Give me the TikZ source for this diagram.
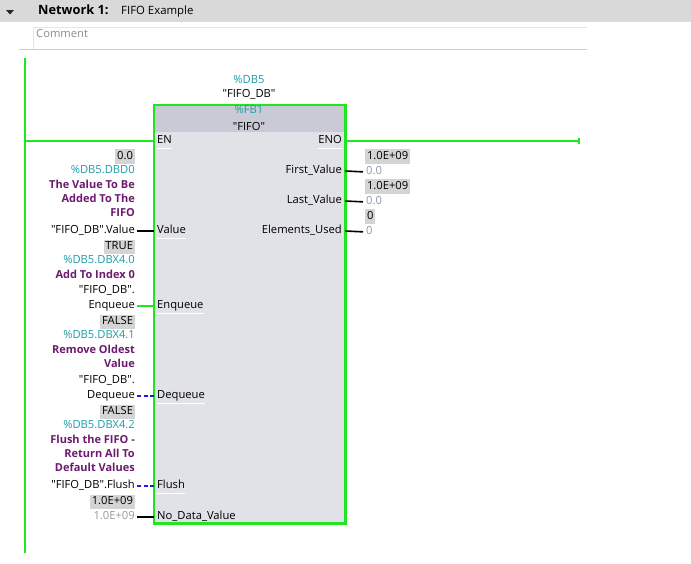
\documentclass[tikz,border=0pt]{standalone}
\usepackage{fontspec}
\setmainfont{Open Sans}[Ligatures=TeXOff]
\usetikzlibrary{positioning,calc}
\definecolor{plcgreen} {HTML}{1FE61F}
\definecolor{plcblue}  {HTML}{1C1CE8}
\definecolor{addrteal} {HTML}{1E9EA8}
\definecolor{cmtpurple}{HTML}{6B1A6E}
\definecolor{hdrgray}  {HTML}{D9D9D9}
\definecolor{boxgray}  {HTML}{D4D4D4}
\definecolor{blkhead}  {HTML}{C9CAD6}
\definecolor{blkbody}  {HTML}{E1E1E8}
\definecolor{initgray} {HTML}{8C9AAE}
\definecolor{softgray} {HTML}{9A9A9A}
\definecolor{cmtline}  {HTML}{CFCBDD}
\tikzset{
  every node/.style={font=\fontsize{11.2}{13}\selectfont, inner sep=0pt,
                     text height=8.2pt, text depth=2.4pt},
  % --- nodes
  pin/.style   = {anchor=west, text=black},
  opin/.style  = {anchor=east, text=black},
  tag/.style   = {anchor=east, text=black},
  addr/.style  = {anchor=east, text=addrteal},
  cmt/.style   = {anchor=east, text=cmtpurple, font=\fontsize{11}{13}\selectfont\bfseries},
  val/.style   = {fill=boxgray, inner sep=1.8pt, text=black},
  init/.style  = {text=initgray},
  % --- edges
  rail/.style  = {draw=plcgreen, line width=2pt},
  wire/.style  = {line width=1.6pt},
  boolon/.style= {wire, draw=plcgreen},
  booloff/.style={wire, draw=plcblue, dash pattern=on 4pt off 2.5pt},
  realw/.style = {wire, draw=black},
  sep/.style   = {draw=white, line width=0.8pt},
}

\begin{document}
\begin{tikzpicture}[x=1pt,y=-1pt]
  \useasboundingbox (0,0) rectangle (691,563);
  % network header
  \fill[hdrgray] (0,0) rectangle (691,22);
  \fill[black!85] (6,10) -- (14,10) -- (10,14.5) -- cycle;
  \node[anchor=west, font=\fontsize{12.8}{15}\selectfont\bfseries] (netno) at (38,11.5) {Network 1:};
  \node[anchor=west, font=\fontsize{11.4}{13}\selectfont] (nettitle) at (121,11.5) {FIFO Example};
  \draw[draw=black!10] (33,49) -- (33,27) -- (587,27);
  \draw[draw=cmtline] (19,49) -- (587,49);
  \node[anchor=west, text=black!45, font=\fontsize{11.2}{13}\selectfont] (comment) at (36,35) {Comment};

  % power rail
  \coordinate (railtop) at (25,58);
  \coordinate (railbot) at (25,553);
  \draw[rail] (railtop) -- (railbot);

  % FB block
  \node[fill=blkbody, minimum width=191pt, minimum height=418pt, anchor=north west] (fb) at (154,105) {};
  \fill[blkhead] (fb.north west) rectangle ($(fb.north east)+(0,27)$);
  \draw[rail, line width=2.2pt] (fb.north west) rectangle (fb.south east);
  \node[addr, anchor=center] (dbaddr) at (249,81) {\%DB5};
  \node[anchor=center] (dbname) at (249,95) {"FIFO\_DB"};
  \node[addr, anchor=center] (fbaddr) at (249,111) {\%FB1};
  \node[anchor=center] (fbname) at (249,128) {"FIFO"};

  % EN / ENO
  \node[pin] (pEN) at (157,141) {EN};
  \node[opin] (pENO) at (342,141) {ENO};
  \coordinate (enoend) at (579,141);
  \draw[boolon] (railtop |- pEN) -- (pEN -| fb.west);
  \draw[boolon] (pENO -| fb.east) -- (enoend);
  \draw[plcgreen, line width=1.5pt] ([yshift=3pt]enoend) -- ([yshift=-3pt]enoend);

  % input: Value
  \node[val, anchor=east] (iValueBox) at (135,156.5) {0.0};
  \node[addr] (iValueAddr) at (135,171) {\%DB5.DBD0};
  \node[cmt] (iValueC1) at (135,186) {The Value To Be};
  \node[cmt] (iValueC2) at (135,200) {Added To The};
  \node[cmt] (iValueC3) at (135,214) {FIFO};
  \node[tag] (iValue) at (135,231) {"FIFO\_DB".Value};
  \node[pin] (pValue) at (157,231) {Value};
  \draw[realw, shorten <=2pt] (iValue.east) -- (pValue -| fb.west);

  % input: Enqueue
  \node[val, anchor=east] (iEnqBox) at (135,247) {TRUE};
  \node[addr] (iEnqAddr) at (135,261) {\%DB5.DBX4.0};
  \node[cmt] (iEnqC1) at (135,276) {Add To Index 0};
  \node[tag] (iEnqDb) at (135,291) {"FIFO\_DB".};
  \node[tag] (iEnq) at (135,306) {Enqueue};
  \node[pin] (pEnq) at (157,306) {Enqueue};
  \draw[boolon, shorten <=2pt] (iEnq.east) -- (pEnq -| fb.west);

  % input: Dequeue
  \node[val, anchor=east] (iDeqBox) at (135,322) {FALSE};
  \node[addr] (iDeqAddr) at (135,336) {\%DB5.DBX4.1};
  \node[cmt] (iDeqC1) at (135,351) {Remove Oldest};
  \node[cmt] (iDeqC2) at (135,365) {Value};
  \node[tag] (iDeqDb) at (135,381) {"FIFO\_DB".};
  \node[tag] (iDeq) at (135,396) {Dequeue};
  \node[pin] (pDeq) at (157,396) {Dequeue};
  \draw[booloff, shorten <=2pt] (iDeq.east) -- (pDeq -| fb.west);

  % input: Flush
  \node[val, anchor=east] (iFlushBox) at (135,412) {FALSE};
  \node[addr] (iFlushAddr) at (135,426) {\%DB5.DBX4.2};
  \node[cmt] (iFlushC1) at (135,441) {Flush the FIFO -};
  \node[cmt] (iFlushC2) at (135,455) {Return All To};
  \node[cmt] (iFlushC3) at (135,469) {Default Values};
  \node[tag] (iFlush) at (135,486) {"FIFO\_DB".Flush};
  \node[pin] (pFlush) at (157,486) {Flush};
  \draw[booloff, shorten <=2pt] (iFlush.east) -- (pFlush -| fb.west);

  % input: No_Data_Value
  \node[val, anchor=east] (iNoDataBox) at (135,502) {1.0E+09};
  \node[tag, text=softgray] (iNoData) at (135,517) {1.0E+09};
  \node[pin] (pNoData) at (157,517) {No\_Data\_Value};
  \draw[realw, shorten <=2pt] (iNoData.east) -- (pNoData -| fb.west);

  % outputs
  \node[opin] (oFirst) at (342,171) {First\_Value};
  \node[val, anchor=west] (oFirstBox) at (365,156.5) {1.0E+09};
  \node[init, anchor=west] (vFirst) at (366,172) {0.0};
  \draw[realw, shorten >=3pt] (oFirst -| fb.east) -- (vFirst.west);

  \node[opin] (oLast) at (342,201) {Last\_Value};
  \node[val, anchor=west] (oLastBox) at (365,186.5) {1.0E+09};
  \node[init, anchor=west] (vLast) at (366,202) {0.0};
  \draw[realw, shorten >=3pt] (oLast -| fb.east) -- (vLast.west);

  \node[opin] (oElem) at (342,231) {Elements\_Used};
  \node[val, anchor=west] (oElemBox) at (365,216.5) {0};
  \node[init, anchor=west] (vElem) at (366,232) {0};
  \draw[realw, shorten >=3pt] (oElem -| fb.east) -- (vElem.west);

  % pin separators
  \foreach \p in {pEN,pValue,pEnq,pDeq,pFlush,pENO}
    \draw[sep] ([yshift=-7pt]\p.west) -- ([yshift=-7pt]\p.east);
\end{tikzpicture}
\end{document}
